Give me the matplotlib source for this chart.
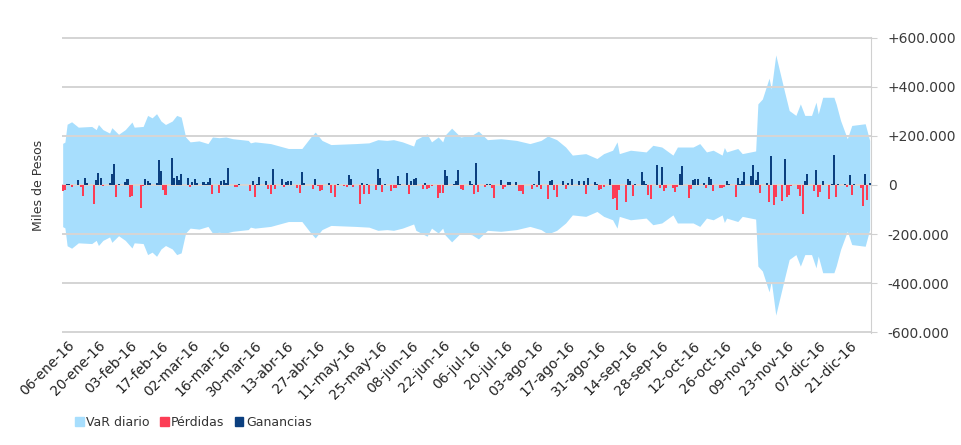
import numpy as np
import matplotlib
matplotlib.use('Agg')
import matplotlib.pyplot as plt
from matplotlib.patches import Patch

# VaR diario (miles de pesos), puntos leidos del borde de la banda
# dia = dias desde el 04-ene-16
var_day = [0, 1, 2, 4, 7, 13, 15, 16, 18, 21, 22, 25, 28, 31, 32, 36, 38, 40, 42, 44,
           46, 49, 51, 53, 55, 57, 61, 65, 67, 70, 73, 76, 83, 84, 86, 93, 101, 107, 111, 113,
           116, 120, 131, 137, 141, 145, 148, 152, 157, 158, 163, 165, 168, 170, 171, 174, 178, 183, 186, 190,
           196, 203, 209, 214, 217, 221, 225, 228, 234, 239, 242, 246, 248, 249, 254, 261, 264, 268, 273, 275,
           282, 285, 288, 291, 295, 296, 297, 302, 304, 310, 311, 313, 316, 317, 319, 323, 325, 328, 330, 332,
           335, 337, 338, 340, 345, 346, 348, 351, 353, 359, 360, 361]
var_val = [170, 175, 248, 258, 236, 239, 226, 247, 226, 212, 234, 207, 226, 257, 236, 239, 284, 274, 291, 261,
           247, 261, 284, 277, 196, 176, 180, 169, 196, 193, 196, 189, 182, 172, 176, 169, 149, 149, 196, 216,
           182, 165, 169, 172, 185, 182, 185, 176, 159, 185, 209, 176, 196, 176, 203, 232, 196, 203, 220, 185,
           189, 182, 169, 182, 200, 185, 155, 122, 128, 108, 128, 142, 176, 128, 142, 135, 162, 155, 122, 155,
           155, 169, 135, 142, 122, 153, 135, 149, 128, 139, 331, 351, 436, 392, 531, 378, 304, 284, 331, 284,
           284, 338, 290, 358, 358, 331, 263, 189, 243, 250, 216, 182]

# resultado diario (miles de pesos), una fila por semana, lunes a viernes
pnl = [
    -25, -20, 4, 3, -7,        # 04-ene
    20, -8, -43, 28, 7,
    -78, 20, 50, 28, -5,
    9, 45, 85, -47, 3,
    12, 24, -47, -43, 2,       # 01-feb
    -92, -5, 23, 18, 7,
    7, 104, 58, -20, -40,
    109, 30, 36, 20, 45,
    28, -10, 12, 26, 8,        # 29-feb
    14, 3, 14, 27, -35,
    -32, 18, 20, 8, 70,
    -7, -7, 3, 2, 2,
    -23, 16, -51, 3, 31,       # 28-mar
    18, -16, -38, 64, -18,
    24, -10, 12, 16, 16,
    -13, -31, 54, 7, 2,
    -18, 26, -6, -23, -20,
    9, -31, 2, -47, 3,         # 02-may
    -6, -9, 39, 24, -9,
    -76, 9, -35, 3, -35,
    -20, 64, 27, -27, 3,
    -23, -13, -13, 36, 3,      # 30-may
    47, -36, 16, 23, 27,
    -16, 9, -16, -13, -5,
    -55, -31, -31, 61, 36,
    4, 16, 61, -16, -20,       # 27-jun
    18, 4, -35, 89, -27,
    -7, 3, 3, -13, -55,
    20, -18, -7, 11, 11,
    12, -23, -24, -35, 2,      # 25-jul
    -16, 4, -9, 57, -15,
    -57, 16, 20, -20, -47,
    16, -16, 9, 2, 23,
    16, 2, 16, -35, 27,
    12, 4, -20, -18, -7,       # 29-ago
    23, -58, -55, -104, -20,
    -70, 23, 16, -43, 3,
    53, 16, 3, -40, -57,
    80, -13, 74, -23, -13,
    -11, -27, -9, 45, 77,      # 03-oct
    -55, -16, 20, 23, 23,
    9, -13, 31, 23, -23,
    -11, -11, -7, 18, 3,
    -51, 28, 3, 16, 53,        # 31-oct
    36, 81, 20, 53, -31,
    7, -68, 118, -80, -51,
    -64, 105, -47, -41, -5,
    -16, -43, -120, 18, 45,    # 28-nov
    -23, 61, -47, -27, 16,
    -56, 3, 124, -47, 3,
    4, -9, 40, -41, 4,
    -11, -84, 45, -61, 7,
]

tick_labels = ['06-ene-16', '20-ene-16', '03-feb-16', '17-feb-16', '02-mar-16', '16-mar-16',
               '30-mar-16', '13-abr-16', '27-abr-16', '11-may-16', '25-may-16', '08-jun-16',
               '22-jun-16', '06-jul-16', '20-jul-16', '03-ago-16', '17-ago-16', '31-ago-16',
               '14-sep-16', '28-sep-16', '12-oct-16', '26-oct-16', '09-nov-16', '23-nov-16',
               '07-dic-16', '21-dic-16']
y_ticks = [600, 400, 200, 0, -200, -400, -600]
y_labels = ['+600.000', '+400.000', '+200.000', '0', '-200.000', '-400.000', '-600.000']

c_var = '#a7defd'
c_loss = '#fc3d55'
c_gain = '#0b3f7f'

pnl = np.array(pnl)
var_day = np.array(var_day)
var_val = np.array(var_val)
days = np.array([7 * (i // 5) + i % 5 for i in range(len(pnl))])

fig = plt.figure(figsize=(9.62, 4.45), dpi=100)
ax = fig.add_axes([62 / 962, 1 - 333 / 445, (871 - 62) / 962, (333 - 37) / 445])

ax.fill_between(var_day, -var_val, var_val, color=c_var, linewidth=0, zorder=1)
# lineas de la grilla como franjas finas, por encima de la banda
for yv in y_ticks:
    ax.axhspan(yv - 2.6, yv + 2.6, color='#d5d5d5', linewidth=0, zorder=2)
gain = pnl > 0
ax.bar(days[gain], pnl[gain], width=0.9, color=c_gain, linewidth=0, zorder=3)
ax.bar(days[~gain], pnl[~gain], width=0.9, color=c_loss, linewidth=0, zorder=3)

ax.set_ylim(-604, 604)
ax.set_xlim(-0.3, 361.6)
ax.set_yticks(y_ticks)
ax.set_yticklabels(y_labels)
ax.yaxis.tick_right()

ax.set_xticks([2 + 14 * k for k in range(len(tick_labels))])
ax.set_xticklabels(tick_labels, rotation=45, ha='right', rotation_mode='anchor')

for s in ['top', 'left', 'bottom']:
    ax.spines[s].set_visible(False)
ax.spines['right'].set_color('#d0d0d0')
ax.tick_params(axis='y', length=4, color='#d0d0d0', labelsize=10, labelcolor='#3a3a3a', pad=8)
ax.tick_params(axis='x', length=0, labelsize=10, labelcolor='#222222', pad=4)

fig.text(38 / 962, 1 - 185 / 445, 'Miles de Pesos', rotation=90, ha='center', va='center',
         fontsize=9, color='#333333')

handles = [Patch(color=c_var, label='VaR diario'),
           Patch(color=c_loss, label='Pérdidas'),
           Patch(color=c_gain, label='Ganancias')]
fig.legend(handles=handles, loc='center left', bbox_to_anchor=(64 / 962, 1 - 422 / 445),
           ncol=3, frameon=False, fontsize=9, handlelength=0.7, handleheight=0.7,
           handletextpad=0.2, columnspacing=0.8, labelcolor='#333333')

fig.savefig('out.png', dpi=100)
